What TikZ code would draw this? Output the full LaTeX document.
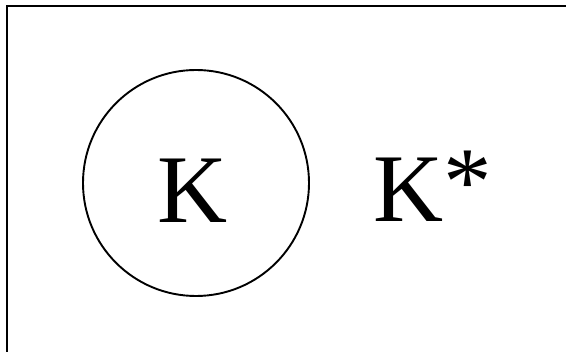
\documentclass[tikz,border=0pt]{standalone}
\usepackage{fontspec}
\setmainfont{Liberation Serif}
\begin{document}
\begin{tikzpicture}[
    x=1pt, y=-1pt,
    frame/.style={draw, line width=2pt},
    setc/.style={draw, circle, line width=1.9pt, minimum size=226pt, inner sep=0pt},
    big/.style={font=\fontsize{97}{100}\selectfont, inner sep=0pt}
]
    \useasboundingbox (0,0) rectangle (566,352);
    % Rahmen
    \draw[frame] (6.5,360) -- (6.5,6) -- (580,6);
    % Menge K
    \node[setc] (kset) at (196,183) {};
    \node[big, anchor=base] (klabel) at (193,223) {K};
    % K*
    \node[big, anchor=base west] (kstar) at (373,222) {K\raisebox{7pt}{*}};
\end{tikzpicture}
\end{document}
